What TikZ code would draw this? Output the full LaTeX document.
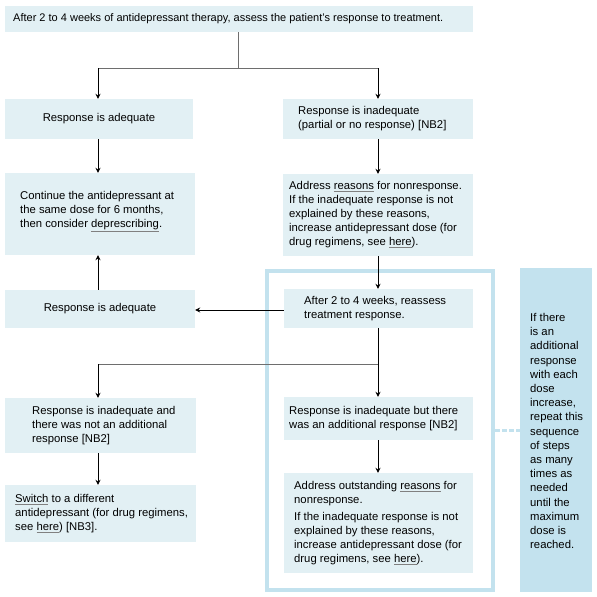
\documentclass[tikz,border=0pt]{standalone}
\usepackage{fontspec}
\setmainfont{Liberation Sans}
\usetikzlibrary{arrows.meta}
\definecolor{boxfill}{HTML}{E2F0F4}
\definecolor{sidefill}{HTML}{C3E2EE}
\definecolor{connline}{HTML}{6E6E6E}
\newcommand{\ul}[1]{{\color{gray}\underline{\color{black}#1}}}
\tikzset{
  box/.style={fill=boxfill, inner sep=0pt},
  cbox/.style={box, align=center, font=\fontsize{11.3}{14}\selectfont},
  txt/.style={anchor=west, align=left, inner sep=0pt, font=\fontsize{11.3}{14}\selectfont},
  arr/.style={-{Stealth[length=5pt,width=5pt]}, black, line width=0.9pt},
  branch/.style={connline, line width=1pt},
}
\begin{document}
\begin{tikzpicture}[x=1pt,y=-1pt]
\useasboundingbox (0,0) rectangle (597,597);
% frame and side note
\draw[sidefill, line width=4pt] (267,271) rectangle (493,590);
\node[fill=sidefill, minimum width=72pt, minimum height=324pt, inner sep=0pt] (side) at (556,430) {};
\node[txt, font=\fontsize{11.3}{14.2}\selectfont] (sidetxt) at (530,431)
 {If there\\is an\\additional\\response\\with each\\dose\\increase,\\repeat this\\sequence\\of steps\\as many\\times as\\needed\\until the\\maximum\\dose is\\reached.};
\coordinate (fr) at (495,430);
\draw[sidefill, line width=3pt, dash pattern=on 4.5pt off 2.5pt] (fr) -- (side.west |- fr);

% boxes
\node[box, minimum width=468pt, minimum height=26pt] (top) at (239,19) {};
\node[txt, font=\fontsize{11}{14}\selectfont] at (13,19)
 {After 2 to 4 weeks of antidepressant therapy, assess the patient’s response to treatment.};
\node[cbox, minimum width=188pt, minimum height=40pt] (a1) at (99,119)
 {Response is adequate};
\node[box, minimum width=190pt, minimum height=40pt] (b1) at (378,119) {};
\node[txt] at (298,119) {Response is inadequate\\(partial or no response) [NB2]};
\node[box, minimum width=190pt, minimum height=82pt] (a2) at (100,214) {};
\node[txt] at (20,212) {Continue the antidepressant at\\the same dose for 6 months,\\then consider \ul{deprescribing}.};
\node[box, minimum width=190pt, minimum height=82pt] (b2) at (378,215) {};
\node[txt] at (289,215) {Address \ul{reasons} for nonresponse.\\If the inadequate response is not\\explained by these reasons,\\increase antidepressant dose (for\\drug regimens, see \ul{here}).};
\node[cbox, minimum width=190pt, minimum height=38pt] (a3) at (100,309)
 {Response is adequate};
\node[box, minimum width=189pt, minimum height=39pt] (b3) at (378.5,308.5) {};
\node[txt] at (304,308.5) {After 2 to 4 weeks, reassess\\treatment response.};
\node[box, minimum width=191pt, minimum height=55pt] (c1) at (100.5,425.5) {};
\node[txt] at (32,425.5) {Response is inadequate and\\there was not an additional\\response [NB2]};
\node[box, minimum width=191pt, minimum height=57pt] (c2) at (100.5,513.5) {};
\node[txt] at (15,513.5) {\ul{Switch} to a different\\antidepressant (for drug regimens,\\see \ul{here}) [NB3].};
\node[box, minimum width=189pt, minimum height=43pt] (b4) at (378.5,418.5) {};
\node[txt] at (289,418.5) {Response is inadequate but there\\was an additional response [NB2]};
\node[box, minimum width=189pt, minimum height=100pt] (b5) at (378.5,523) {};
\node[txt] at (294,523) {Address outstanding \ul{reasons} for\\nonresponse.\\[3pt]If the inadequate response is not\\explained by these reasons,\\increase antidepressant dose (for\\drug regimens, see \ul{here}).};

% connectors
\coordinate (j1) at (238,68);
\coordinate (j2) at (378,364);
\draw[branch] (top.south -| j1) -- (j1);
\draw[branch] (98,68) -- (378,68);
\draw[arr] (98,68) -- (a1.north -| 98,0);
\draw[arr] (378,68) -- (b1.north -| 378,0);
\draw[arr] (a1.south -| 98,0) -- (a2.north -| 98,0);
\draw[arr] (b1) -- (b2);
\draw[arr] (b2.south -| 378,0) -- (b3.north -| 378,0);
\draw[arr] (a3.north -| 98,0) -- (a2.south -| 98,0);
\draw[arr] (b3.west |- 0,310) -- (a3.east |- 0,310);
\draw[black, line width=0.9pt] (b3.south -| j2) -- (j2);
\draw[branch] (j2) -- (98,364);
\draw[arr] (j2) -- (b4.north -| j2);
\draw[arr] (98,364) -- (c1.north -| 98,0);
\draw[arr] (b4.south -| 378,0) -- (b5.north -| 378,0);
\draw[arr] (c1.south -| 98,0) -- (c2.north -| 98,0);
\end{tikzpicture}
\end{document}
